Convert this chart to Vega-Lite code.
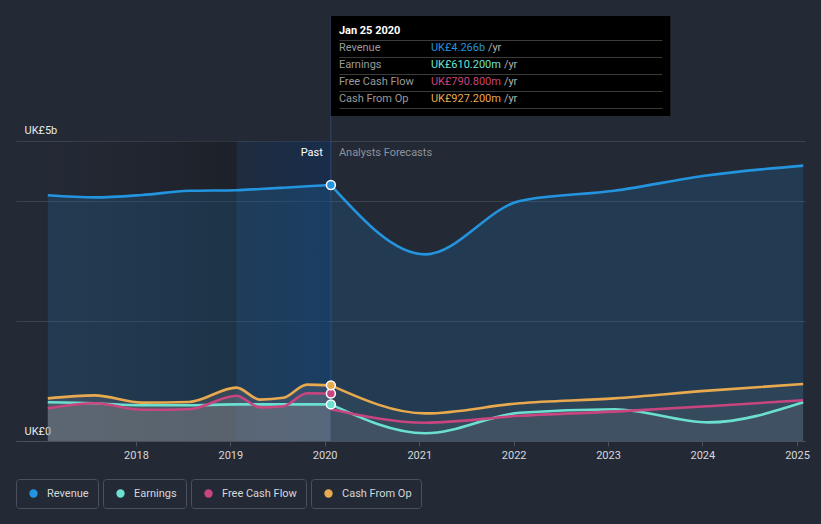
{
  "$schema": "https://vega.github.io/schema/vega-lite/v6.json",
  "width": 789,
  "height": 425,
  "autosize": {"type": "none"},
  "padding": {"left": 16, "top": 16, "right": 16, "bottom": 83},
  "background": "#242a35",
  "config": {
    "view": {"stroke": null},
    "font": "Roboto",
    "legend": {
      "orient": "bottom",
      "direction": "horizontal",
      "labelColor": "#d4d7dc",
      "labelFont": "Roboto",
      "labelFontSize": 11,
      "labelOffset": 8,
      "symbolType": "circle",
      "symbolSize": 70,
      "symbolStrokeWidth": 0,
      "strokeColor": "#4a505c",
      "cornerRadius": 3,
      "padding": 9,
      "offset": 19,
      "symbolOffset": 3,
      "layout": {"bottom": {"anchor": "start", "direction": "horizontal", "margin": 5}}
    }
  },
  "datasets": {
    "lines": [
      {"s": "Revenue", "seg": "past", "date": "2017-01-25", "v": 4.095},
      {"s": "Revenue", "seg": "past", "date": "2017-07-25", "v": 4.06},
      {"s": "Revenue", "seg": "past", "date": "2018-01-25", "v": 4.1},
      {"s": "Revenue", "seg": "past", "date": "2018-07-25", "v": 4.17},
      {"s": "Revenue", "seg": "past", "date": "2019-01-25", "v": 4.18},
      {"s": "Revenue", "seg": "past", "date": "2019-04-25", "v": 4.2},
      {"s": "Revenue", "seg": "past", "date": "2019-07-25", "v": 4.222},
      {"s": "Revenue", "seg": "past", "date": "2019-10-25", "v": 4.245},
      {"s": "Revenue", "seg": "past", "date": "2020-01-25", "v": 4.266},
      {"s": "Revenue", "seg": "forecast", "date": "2020-01-25", "v": 4.266},
      {"s": "Revenue", "seg": "forecast", "date": "2021-01-25", "v": 3.11},
      {"s": "Revenue", "seg": "forecast", "date": "2022-01-25", "v": 4.0},
      {"s": "Revenue", "seg": "forecast", "date": "2023-01-25", "v": 4.17},
      {"s": "Revenue", "seg": "forecast", "date": "2024-01-25", "v": 4.43},
      {"s": "Revenue", "seg": "forecast", "date": "2025-01-25", "v": 4.59},
      {"s": "Earnings", "seg": "past", "date": "2017-01-25", "v": 0.645},
      {"s": "Earnings", "seg": "past", "date": "2017-07-25", "v": 0.63},
      {"s": "Earnings", "seg": "past", "date": "2018-01-25", "v": 0.595},
      {"s": "Earnings", "seg": "past", "date": "2018-07-25", "v": 0.595},
      {"s": "Earnings", "seg": "past", "date": "2019-01-25", "v": 0.61},
      {"s": "Earnings", "seg": "past", "date": "2019-04-25", "v": 0.61},
      {"s": "Earnings", "seg": "past", "date": "2019-07-25", "v": 0.61},
      {"s": "Earnings", "seg": "past", "date": "2019-10-25", "v": 0.61},
      {"s": "Earnings", "seg": "past", "date": "2020-01-25", "v": 0.6102},
      {"s": "Earnings", "seg": "forecast", "date": "2020-01-25", "v": 0.6102},
      {"s": "Earnings", "seg": "forecast", "date": "2021-01-25", "v": 0.128},
      {"s": "Earnings", "seg": "forecast", "date": "2022-01-25", "v": 0.47},
      {"s": "Earnings", "seg": "forecast", "date": "2023-01-25", "v": 0.53},
      {"s": "Earnings", "seg": "forecast", "date": "2024-01-25", "v": 0.31},
      {"s": "Earnings", "seg": "forecast", "date": "2025-01-25", "v": 0.645},
      {"s": "Free Cash Flow", "seg": "past", "date": "2017-01-25", "v": 0.545},
      {"s": "Free Cash Flow", "seg": "past", "date": "2017-07-25", "v": 0.63},
      {"s": "Free Cash Flow", "seg": "past", "date": "2018-01-25", "v": 0.52},
      {"s": "Free Cash Flow", "seg": "past", "date": "2018-07-25", "v": 0.53},
      {"s": "Free Cash Flow", "seg": "past", "date": "2019-01-25", "v": 0.755},
      {"s": "Free Cash Flow", "seg": "past", "date": "2019-04-25", "v": 0.56},
      {"s": "Free Cash Flow", "seg": "past", "date": "2019-07-25", "v": 0.58},
      {"s": "Free Cash Flow", "seg": "past", "date": "2019-10-25", "v": 0.795},
      {"s": "Free Cash Flow", "seg": "past", "date": "2020-01-25", "v": 0.7908},
      {"s": "Free Cash Flow", "seg": "forecast", "date": "2020-01-25", "v": 0.53},
      {"s": "Free Cash Flow", "seg": "forecast", "date": "2021-01-25", "v": 0.305},
      {"s": "Free Cash Flow", "seg": "forecast", "date": "2022-01-25", "v": 0.42},
      {"s": "Free Cash Flow", "seg": "forecast", "date": "2023-01-25", "v": 0.49},
      {"s": "Free Cash Flow", "seg": "forecast", "date": "2024-01-25", "v": 0.58},
      {"s": "Free Cash Flow", "seg": "forecast", "date": "2025-01-25", "v": 0.68},
      {"s": "Cash From Op", "seg": "past", "date": "2017-01-25", "v": 0.71},
      {"s": "Cash From Op", "seg": "past", "date": "2017-07-25", "v": 0.76},
      {"s": "Cash From Op", "seg": "past", "date": "2018-01-25", "v": 0.64},
      {"s": "Cash From Op", "seg": "past", "date": "2018-07-25", "v": 0.65},
      {"s": "Cash From Op", "seg": "past", "date": "2019-01-25", "v": 0.89},
      {"s": "Cash From Op", "seg": "past", "date": "2019-04-25", "v": 0.69},
      {"s": "Cash From Op", "seg": "past", "date": "2019-07-25", "v": 0.72},
      {"s": "Cash From Op", "seg": "past", "date": "2019-10-25", "v": 0.94},
      {"s": "Cash From Op", "seg": "past", "date": "2020-01-25", "v": 0.9272},
      {"s": "Cash From Op", "seg": "forecast", "date": "2020-01-25", "v": 0.9272},
      {"s": "Cash From Op", "seg": "forecast", "date": "2021-01-25", "v": 0.46},
      {"s": "Cash From Op", "seg": "forecast", "date": "2022-01-25", "v": 0.63},
      {"s": "Cash From Op", "seg": "forecast", "date": "2023-01-25", "v": 0.71},
      {"s": "Cash From Op", "seg": "forecast", "date": "2024-01-25", "v": 0.84},
      {"s": "Cash From Op", "seg": "forecast", "date": "2025-01-25", "v": 0.95}
    ],
    "dots": [
      {"s": "Revenue", "date": "2020-01-25", "v": 4.266},
      {"s": "Earnings", "date": "2020-01-25", "v": 0.6102},
      {"s": "Free Cash Flow", "date": "2020-01-25", "v": 0.7908},
      {"s": "Cash From Op", "date": "2020-01-25", "v": 0.9272}
    ],
    "shade": [{"date": "2017-01-25", "date2": "2019-01-25", "v": 0, "v2": 5}],
    "band": [{"date": "2019-01-25", "date2": "2020-01-25", "v": 0, "v2": 5}],
    "now": [{"date": "2020-01-25", "v": 0, "v2": 7.0833}],
    "pastlabel": [{"date": "2020-01-25", "v": 4.8, "t": "Past"}],
    "futlabel": [{"date": "2020-01-25", "v": 4.8, "t": "Analysts Forecasts"}],
    "tipbox": [{"date": "2020-01-25", "date2": "2023-08-30", "v": 5.417, "v2": 7.0833}],
    "tiplines": [
      {"date": "2020-02-27", "date2": "2023-07-30", "v": 6.675},
      {"date": "2020-02-27", "date2": "2023-07-30", "v": 6.392},
      {"date": "2020-02-27", "date2": "2023-07-30", "v": 6.108},
      {"date": "2020-02-27", "date2": "2023-07-30", "v": 5.825},
      {"date": "2020-02-27", "date2": "2023-07-30", "v": 5.542}
    ],
    "tiptitle": [{"date": "2020-01-25", "v": 6.833, "t": "Jan 25 2020"}],
    "tiprows": [
      {"date": "2020-01-25", "v": 6.55, "s": "Revenue", "val": "UK£4.266b", "unit": "/yr"},
      {"date": "2020-01-25", "v": 6.267, "s": "Earnings", "val": "UK£610.200m", "unit": "/yr"},
      {"date": "2020-01-25", "v": 5.983, "s": "Free Cash Flow", "val": "UK£790.800m", "unit": "/yr"},
      {"date": "2020-01-25", "v": 5.7, "s": "Cash From Op", "val": "UK£927.200m", "unit": "/yr"}
    ]
  },
  "encoding": {
    "x": {
      "field": "date",
      "type": "temporal",
      "scale": {"domain": [{"year": 2016, "month": 9, "date": 24}, {"year": 2025, "month": 2, "date": 1}]},
      "axis": {
        "title": null,
        "values": [
          {"year": 2018, "month": 1, "date": 1}, {"year": 2019, "month": 1, "date": 1},
          {"year": 2020, "month": 1, "date": 1}, {"year": 2021, "month": 1, "date": 1},
          {"year": 2022, "month": 1, "date": 1}, {"year": 2023, "month": 1, "date": 1},
          {"year": 2024, "month": 1, "date": 1}, {"year": 2025, "month": 1, "date": 1}
        ],
        "format": "%Y",
        "grid": false,
        "domainColor": "#4a505c",
        "tickColor": "#4a505c",
        "tickSize": 5,
        "labelColor": "#d5d8dc",
        "labelFont": "Roboto",
        "labelFontSize": 11,
        "labelPadding": 3
      }
    },
    "y": {
      "field": "v",
      "type": "quantitative",
      "stack": null,
      "scale": {"domain": [0, 7.0833], "nice": false, "zero": true},
      "axis": {
        "title": null,
        "values": [0, 2, 4, 5],
        "labelExpr": "datum.value == 5 ? 'UK£5b' : (datum.value == 0 ? 'UK£0' : '')",
        "grid": true,
        "gridColor": "#3b414d",
        "gridWidth": 1,
        "domain": false,
        "ticks": false,
        "tickSize": 0,
        "labelAlign": "left",
        "labelBaseline": "bottom",
        "labelOffset": -5,
        "labelPadding": -8,
        "labelColor": "#e6e8eb",
        "labelFont": "Roboto",
        "labelFontSize": 11
      }
    }
  },
  "layer": [
    {
      "data": {"name": "shade"},
      "mark": {"type": "rect", "fill": {"gradient": "linear", "x1": 0, "y1": 0, "x2": 1, "y2": 0, "stops": [{"offset": 0, "color": "rgba(0,0,0,0)"}, {"offset": 1, "color": "rgba(0,0,0,0.22)"}]}},
      "encoding": {"x2": {"field": "date2"}, "y2": {"field": "v2"}}
    },
    {
      "data": {"name": "band"},
      "mark": {"type": "rect", "fill": {"gradient": "linear", "x1": 0, "y1": 0, "x2": 1, "y2": 0, "stops": [{"offset": 0, "color": "rgba(13,48,96,0.2)"}, {"offset": 1, "color": "rgba(13,48,96,0.5)"}]}},
      "encoding": {"x2": {"field": "date2"}, "y2": {"field": "v2"}}
    },
    {
      "data": {"name": "lines"},
      "transform": [{"filter": "datum.s === 'Revenue'"}],
      "mark": {"type": "area", "interpolate": "monotone", "fill": "#2394df", "fillOpacity": 0.17},
      "encoding": {"detail": {"field": "seg"}}
    },
    {
      "data": {"name": "lines"},
      "transform": [{"filter": "datum.s !== 'Revenue'"}],
      "mark": {"type": "area", "interpolate": "monotone", "fill": "#a09c9a"},
      "encoding": {
        "detail": [{"field": "s"}, {"field": "seg"}],
        "fillOpacity": {"field": "seg", "type": "nominal", "scale": {"domain": ["past", "forecast"], "range": [0.19, 0.09]}, "legend": null}
      }
    },
    {
      "data": {"name": "now"},
      "mark": {"type": "rule", "stroke": "#3a5a8a", "strokeOpacity": 0.6, "strokeWidth": 1},
      "encoding": {"y2": {"field": "v2"}}
    },
    {
      "data": {"name": "lines"},
      "mark": {"type": "line", "interpolate": "monotone", "strokeWidth": 2.6},
      "encoding": {
        "detail": {"field": "seg"},
        "color": {"field": "s", "type": "nominal", "scale": {"domain": ["Revenue", "Earnings", "Free Cash Flow", "Cash From Op"], "range": ["#2394df", "#6ce0d0", "#c9457f", "#e8a94f"]}, "legend": null}
      }
    },
    {
      "data": {"name": "dots"},
      "transform": [{"filter": "datum.s === 'Revenue'"}],
      "mark": {"type": "point", "filled": true, "size": 80, "stroke": "#ffffff", "strokeWidth": 1.5, "opacity": 1},
      "encoding": {"color": {"field": "s", "type": "nominal", "scale": {"domain": ["Revenue"], "range": ["#2394df"]}, "legend": {"title": null}}}
    },
    {
      "data": {"name": "dots"},
      "transform": [{"filter": "datum.s === 'Earnings'"}],
      "mark": {"type": "point", "filled": true, "size": 80, "stroke": "#ffffff", "strokeWidth": 1.5, "opacity": 1},
      "encoding": {"color": {"field": "s", "type": "nominal", "scale": {"domain": ["Earnings"], "range": ["#6ce0d0"]}, "legend": {"title": null}}}
    },
    {
      "data": {"name": "dots"},
      "transform": [{"filter": "datum.s === 'Free Cash Flow'"}],
      "mark": {"type": "point", "filled": true, "size": 80, "stroke": "#ffffff", "strokeWidth": 1.5, "opacity": 1},
      "encoding": {"color": {"field": "s", "type": "nominal", "scale": {"domain": ["Free Cash Flow"], "range": ["#c9457f"]}, "legend": {"title": null}}}
    },
    {
      "data": {"name": "dots"},
      "transform": [{"filter": "datum.s === 'Cash From Op'"}],
      "mark": {"type": "point", "filled": true, "size": 80, "stroke": "#ffffff", "strokeWidth": 1.5, "opacity": 1},
      "encoding": {"color": {"field": "s", "type": "nominal", "scale": {"domain": ["Cash From Op"], "range": ["#e8a94f"]}, "legend": {"title": null}}}
    },
    {
      "data": {"name": "pastlabel"},
      "mark": {"type": "text", "align": "right", "baseline": "middle", "dx": -8, "color": "#ffffff", "font": "Roboto", "fontSize": 11},
      "encoding": {"text": {"field": "t"}}
    },
    {
      "data": {"name": "futlabel"},
      "mark": {"type": "text", "align": "left", "baseline": "middle", "dx": 8, "color": "#8d929b", "font": "Roboto", "fontSize": 11},
      "encoding": {"text": {"field": "t"}}
    },
    {
      "data": {"name": "tipbox"},
      "mark": {"type": "rect", "fill": "#000000"},
      "encoding": {"x2": {"field": "date2"}, "y2": {"field": "v2"}}
    },
    {
      "data": {"name": "tiplines"},
      "mark": {"type": "rule", "stroke": "#3c3c3c", "strokeWidth": 1},
      "encoding": {"x2": {"field": "date2"}}
    },
    {
      "data": {"name": "tiptitle"},
      "mark": {"type": "text", "align": "left", "baseline": "middle", "dx": 8, "color": "#ffffff", "font": "Roboto", "fontSize": 11, "fontWeight": "bold"},
      "encoding": {"text": {"field": "t"}}
    },
    {
      "data": {"name": "tiprows"},
      "mark": {"type": "text", "align": "left", "baseline": "middle", "dx": 8, "color": "#9a9a9a", "font": "Roboto", "fontSize": 11},
      "encoding": {"text": {"field": "s"}}
    },
    {
      "data": {"name": "tiprows"},
      "mark": {"type": "text", "align": "left", "baseline": "middle", "dx": 100, "font": "Roboto", "fontSize": 11},
      "encoding": {
        "text": {"field": "val"},
        "color": {"field": "s", "type": "nominal", "scale": {"domain": ["Revenue", "Earnings", "Free Cash Flow", "Cash From Op"], "range": ["#2394df", "#6ce0d0", "#c9457f", "#e8a94f"]}, "legend": null}
      }
    },
    {
      "data": {"name": "tiprows"},
      "transform": [{"filter": "datum.s === 'Revenue'"}],
      "mark": {"type": "text", "align": "left", "baseline": "middle", "dx": 157, "color": "#b0b0b0", "font": "Roboto", "fontSize": 11},
      "encoding": {"text": {"field": "unit"}}
    },
    {
      "data": {"name": "tiprows"},
      "transform": [{"filter": "datum.s !== 'Revenue'"}],
      "mark": {"type": "text", "align": "left", "baseline": "middle", "dx": 173, "color": "#b0b0b0", "font": "Roboto", "fontSize": 11},
      "encoding": {"text": {"field": "unit"}}
    }
  ],
  "resolve": {"scale": {"color": "independent"}}
}
